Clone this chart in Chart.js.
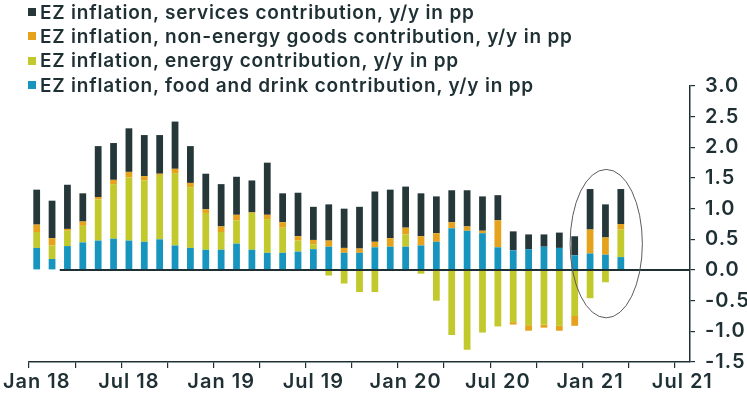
<!DOCTYPE html>
<html>
<head>
<meta charset="utf-8">
<script src="https://cdn.jsdelivr.net/npm/chart.js@4.4.1/dist/chart.umd.min.js"></script>
<style>
  body { margin: 0; background: #fff; }
  #wrap { position: relative; width: 747px; height: 399px; }
  #legend { position: absolute; left: 28px; top: 0; font-family: Inter, sans-serif; font-size: 19px; font-weight: 600; letter-spacing: 0.8px; color: #1f3035; }
  .item { height: 24.3px; display: flex; align-items: center; white-space: nowrap; }
  .box { width: 8px; height: 8px; margin-right: 4px; flex: none; }
</style>
</head>
<body>
<div id="wrap">
  <canvas id="chart" width="747" height="399"></canvas>
  <div id="legend"></div>
</div>
<script>
// Categories: Jan 18 .. Jul 21 (axis runs past the last data point)
const months = [
  "Jan 18","Feb 18","Mar 18","Apr 18","May 18","Jun 18","Jul 18","Aug 18","Sep 18","Oct 18","Nov 18","Dec 18",
  "Jan 19","Feb 19","Mar 19","Apr 19","May 19","Jun 19","Jul 19","Aug 19","Sep 19","Oct 19","Nov 19","Dec 19",
  "Jan 20","Feb 20","Mar 20","Apr 20","May 20","Jun 20","Jul 20","Aug 20","Sep 20","Oct 20","Nov 20","Dec 20",
  "Jan 21","Feb 21","Mar 21","Apr 21","May 21","Jun 21","Jul 21"
];

// Contributions, y/y in pp (Jan 18 .. Mar 21)
const food = [0.36,0.18,0.39,0.45,0.48,0.51,0.48,0.46,0.50,0.40,0.36,0.33,
              0.33,0.43,0.33,0.28,0.28,0.30,0.34,0.38,0.28,0.28,0.37,0.38,
              0.38,0.40,0.46,0.68,0.64,0.60,0.37,0.32,0.34,0.38,0.36,0.24,
              0.27,0.25,0.21];
const energy = [0.26,0.22,0.25,0.27,0.67,0.89,1.03,1.00,1.05,1.18,0.99,0.60,
                0.29,0.38,0.60,0.55,0.41,0.18,0.08,-0.09,-0.22,-0.36,-0.36,0.00,
                0.20,-0.06,-0.50,-1.06,-1.30,-1.02,-0.92,-0.85,-0.90,-0.89,-0.91,-0.75,
                -0.46,-0.20,0.45];
const goods = [0.12,0.12,0.03,0.07,0.04,0.07,0.09,0.07,0.02,0.07,0.07,0.06,
               0.09,0.09,0.01,0.07,0.09,0.07,0.07,0.10,0.08,0.07,0.09,0.14,
               0.11,0.15,0.14,0.10,0.07,0.04,0.44,-0.04,-0.09,-0.05,-0.08,-0.16,
               0.39,0.28,0.09];
const services = [0.57,0.61,0.72,0.46,0.83,0.60,0.71,0.67,0.63,0.77,0.60,0.58,
                  0.69,0.62,0.52,0.85,0.47,0.71,0.54,0.59,0.64,0.68,0.82,0.79,
                  0.67,0.70,0.60,0.52,0.59,0.56,0.41,0.31,0.24,0.20,0.25,0.31,
                  0.66,0.54,0.57];

const yTicks = [-1.5,-1.0,-0.5,0.0,0.5,1.0,1.5,2.0,2.5,3.0];

// Highlight ellipse around the last three months (category index / value units)
const ringCenter = [37.05, 0.43];
const ringRadius = [2.35, 1.21];
const zeroLineFrom = 1.5;

const dark = "#1f3035";
const colors = { services: "#263739", goods: "#e5a31d", energy: "#c2c92c", food: "#1795bf" };

const legendItems = [
  ["EZ inflation, services contribution, y/y in pp", colors.services],
  ["EZ inflation, non-energy goods contribution, y/y in pp", colors.goods],
  ["EZ inflation, energy contribution, y/y in pp", colors.energy],
  ["EZ inflation, food and drink contribution, y/y in pp", colors.food]
];

const legendBox = document.getElementById("legend");
legendItems.forEach(function (item) {
  const row = document.createElement("div");
  row.className = "item";
  row.innerHTML = '<span class="box" style="background:' + item[1] + '"></span>' + item[0];
  legendBox.append(row);
});

// wider tick text, like the reference typeface
const spacing = {
  id: "spacing",
  beforeLayout(chart) { chart.ctx.letterSpacing = "1px"; },
  beforeDraw(chart) { chart.ctx.letterSpacing = "1px"; }
};

const overlay = {
  id: "overlay",
  afterDatasetsDraw(chart) {
    const { ctx, chartArea } = chart;
    const x = chart.scales.x, y = chart.scales.y;
    ctx.save();
    ctx.strokeStyle = dark;
    ctx.lineWidth = 2;
    ctx.beginPath();
    ctx.moveTo(x.getPixelForValue(zeroLineFrom), y.getPixelForValue(0));
    ctx.lineTo(chartArea.right, y.getPixelForValue(0));
    ctx.stroke();

    const cx = x.getPixelForValue(ringCenter[0]), cy = y.getPixelForValue(ringCenter[1]);
    const rx = x.getPixelForValue(ringCenter[0] + ringRadius[0]) - cx;
    const ry = cy - y.getPixelForValue(ringCenter[1] + ringRadius[1]);
    ctx.strokeStyle = "#5b5b5b";
    ctx.lineWidth = 1;
    ctx.beginPath();
    ctx.ellipse(cx, cy, rx, ry, 0, 0, Math.PI * 2);
    ctx.stroke();
    ctx.restore();
  }
};

Chart.defaults.font.family = "Inter, sans-serif";
Chart.defaults.color = dark;

const barStyle = { categoryPercentage: 1, barPercentage: 0.44 };

new Chart(document.getElementById("chart"), {
  type: "bar",
  data: {
    labels: months,
    datasets: [
      Object.assign({ label: "food", data: food, backgroundColor: colors.food }, barStyle),
      Object.assign({ label: "energy", data: energy, backgroundColor: colors.energy }, barStyle),
      Object.assign({ label: "goods", data: goods, backgroundColor: colors.goods }, barStyle),
      Object.assign({ label: "services", data: services, backgroundColor: colors.services }, barStyle)
    ]
  },
  options: {
    responsive: false,
    animation: false,
    layout: { padding: { top: 86, left: 29, right: 0, bottom: 0 } },
    plugins: { legend: { display: false }, tooltip: { enabled: false } },
    scales: {
      x: {
        stacked: true,
        offset: true,
        afterFit: function (scale) { scale.height = 37; },
        grid: {
          offset: true,
          drawOnChartArea: false,
          tickLength: 6,
          lineWidth: 1.2,
          tickColor: function (ctx) { return ctx.index % 3 === 0 ? dark : "rgba(0,0,0,0)"; }
        },
        border: { color: dark, width: 1.5 },
        ticks: {
          autoSkip: false,
          maxRotation: 0,
          padding: 2,
          font: { size: 20, weight: 600 },
          callback: function (value, index) {
            const label = months[index];
            return (label.startsWith("Jan") || label.startsWith("Jul")) ? label : "";
          }
        }
      },
      y: {
        stacked: true,
        position: "right",
        min: yTicks[0],
        max: yTicks[yTicks.length - 1],
        afterFit: function (scale) { scale.width = 57; },
        afterBuildTicks: function (scale) { scale.ticks = yTicks.map(function (v) { return { value: v }; }); },
        grid: { drawOnChartArea: false, tickLength: 5, lineWidth: 1.2, tickColor: dark },
        border: { color: dark, width: 1.5 },
        ticks: {
          padding: 10,
          font: { size: 20, weight: 600 },
          callback: function (value) { return value.toFixed(1); }
        }
      }
    }
  },
  plugins: [spacing, overlay]
});
</script>
</body>
</html>
